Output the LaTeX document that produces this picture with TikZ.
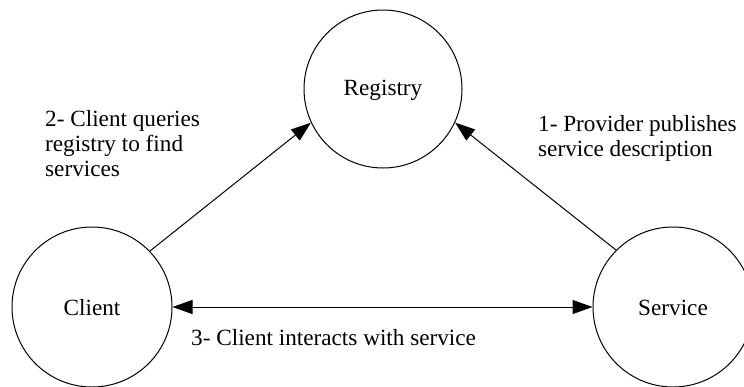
\documentclass[tikz,border=0pt]{standalone}
\usepackage{fontspec}
\setmainfont{Liberation Serif}
\usetikzlibrary{arrows.meta}
\begin{document}
\begin{tikzpicture}[x=1pt,y=-1pt,
  every node/.style={font=\fontsize{23.2}{25}\selectfont},
  actor/.style={circle,draw,line width=1pt,inner sep=0pt,minimum size=158pt},
  tip/.tip={Triangle[length=20pt,width=14pt]},
  link/.style={line width=1pt,-tip},
  lbl/.style={inner sep=0pt,align=left,anchor=base west}]
\useasboundingbox (0,0) rectangle (744,386);
\node[actor] (registry) at (383,89) {};
\node[actor,minimum size=160pt] (client) at (92,307) {};
\node[actor,minimum size=160pt] (service) at (673,307) {};
\node[inner sep=0pt,anchor=base] (rt) at (383,95) {Registry};
\node[inner sep=0pt,anchor=base] (ct) at (92,315) {Client};
\node[inner sep=0pt,anchor=base] (st) at (673,315) {Service};
\draw[link] (client.44.4) -- (registry.205.9);
\draw[link] (service.135.4) -- (registry.-25.7);
\draw[line width=1pt,tip-tip] (client.east) -- (service.west);
\node[lbl] (l2) at (45,176) {2- Client queries\\registry to find\\services};
\node[lbl] (l1) at (538,156) {1- Provider publishes\\service description};
\node[lbl] (l3) at (191,345) {3- Client interacts with service};
\end{tikzpicture}
\end{document}
